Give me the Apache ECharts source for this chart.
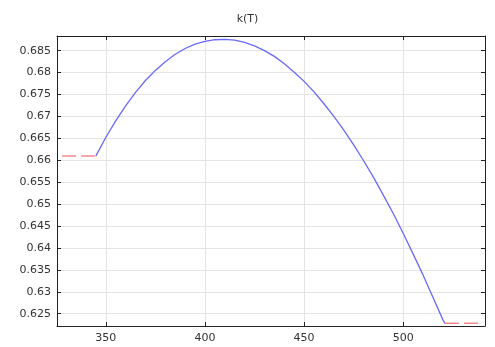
<!DOCTYPE html>
<html>
<head>
<meta charset="utf-8">
<script src="https://cdn.jsdelivr.net/npm/echarts@6/dist/echarts.min.js"></script>
<style>html,body{margin:0;padding:0;background:#fff}#c{width:495px;height:347px}</style>
</head>
<body>
<div id="c"></div>
<script>
const chartTitle = 'k(T)';
const xTicks = [350, 400, 450, 500];
const yTicks = [0.625, 0.63, 0.635, 0.64, 0.645, 0.65, 0.655, 0.66, 0.665, 0.67, 0.675, 0.68, 0.685];
const T = [345, 350, 355, 360, 365, 370, 375, 380, 385, 390, 395, 400, 405, 410, 415, 420, 425, 430, 435, 440, 445, 450, 455, 460, 465, 470, 475, 480, 485, 490, 495, 500, 505, 510, 515, 520, 521];
const k = [0.6610, 0.6652, 0.6690, 0.6724, 0.6755, 0.6782, 0.6805, 0.6825, 0.6842, 0.6855, 0.6865, 0.6871, 0.6875, 0.6876, 0.6874, 0.6869, 0.6861, 0.6850, 0.6837, 0.6820, 0.6801, 0.6780, 0.6756, 0.6729, 0.6700, 0.6669, 0.6635, 0.6599, 0.6561, 0.6520, 0.6478, 0.6433, 0.6386, 0.6338, 0.6287, 0.6236, 0.6228];
const lowT = [328, 345];
const lowK = [0.6610, 0.6610];
const highT = [521, 538.8];
const highK = [0.6228, 0.6228];

const pairs = (xs, ys) => xs.map((x, i) => [x, ys[i]]);
const font = 'DejaVu Sans';
const xMin = 325.4, xMax = 541.2, yMin = 0.6222, yMax = 0.68835;

const chart = echarts.init(document.getElementById('c'), null, {renderer: 'canvas'});
chart.setOption({
  animation: false,
  backgroundColor: '#fff',
  title: {text: chartTitle, left: 'center', top: 9,
    textStyle: {fontFamily: font, fontSize: 11, fontWeight: 'normal', color: '#333'}},
  grid: {left: 57, right: 10, top: 36, bottom: 21},
  xAxis: [{
    type: 'value', min: xMin, max: xMax, position: 'bottom',
    axisLine: {lineStyle: {color: '#222', width: 1}},
    axisTick: {inside: true, length: 4, customValues: xTicks, lineStyle: {color: '#222'}},
    axisLabel: {customValues: xTicks, fontFamily: font, fontSize: 11, color: '#333', margin: 7},
    splitLine: {show: true, lineStyle: {color: '#e4e4e4', width: 1}}
  }, {
    type: 'value', min: xMin, max: xMax, position: 'top',
    axisLine: {onZero: false, lineStyle: {color: '#222', width: 1}},
    axisTick: {inside: true, length: 4, customValues: xTicks, lineStyle: {color: '#222'}},
    axisLabel: {show: false},
    splitLine: {show: false}
  }],
  yAxis: [{
    type: 'value', min: yMin, max: yMax, position: 'left',
    axisLine: {show: true, lineStyle: {color: '#222', width: 1}},
    axisTick: {show: true, inside: true, length: 4, customValues: yTicks, lineStyle: {color: '#222'}},
    axisLabel: {customValues: yTicks, fontFamily: font, fontSize: 11, color: '#333', margin: 6},
    splitLine: {show: true, lineStyle: {color: '#e4e4e4', width: 1}}
  }, {
    type: 'value', min: yMin, max: yMax, position: 'right',
    axisLine: {show: true, onZero: false, lineStyle: {color: '#222', width: 1}},
    axisTick: {show: true, inside: true, length: 4, customValues: yTicks, lineStyle: {color: '#222'}},
    axisLabel: {show: false},
    splitLine: {show: false}
  }],
  series: [{
    type: 'line', data: pairs(T, k), showSymbol: false, smooth: false,
    lineStyle: {color: '#6a6af2', width: 1.3}, itemStyle: {color: '#6a6af2'}
  }, {
    type: 'line', data: pairs(lowT, lowK), showSymbol: false,
    lineStyle: {color: '#f08a8f', width: 1.5, type: [14, 5]}
  }, {
    type: 'line', data: pairs(highT, highK), showSymbol: false,
    lineStyle: {color: '#f08a8f', width: 1.5, type: [14, 5]}
  }]
});
</script>
</body>
</html>
